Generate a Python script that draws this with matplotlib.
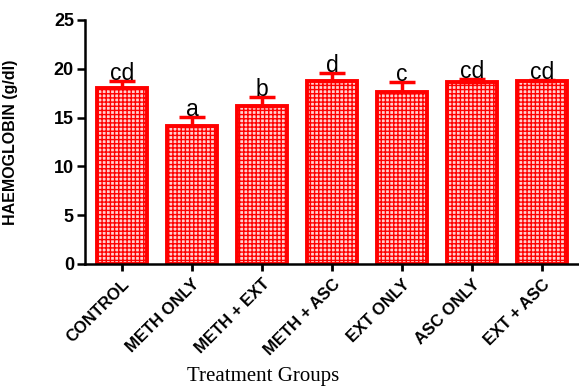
import matplotlib
matplotlib.use("Agg")
import matplotlib.pyplot as plt
import matplotlib.transforms as mtransforms
import numpy as np

groups = ["CONTROL", "METH ONLY", "METH + EXT", "METH + ASC", "EXT ONLY", "ASC ONLY", "EXT + ASC"]
means = [18.0, 14.1, 16.2, 18.75, 17.6, 18.6, 18.75]
errors = [0.75, 1.0, 0.9, 0.85, 1.0, 0.35, 0.15]
letters = ["cd", "a", "b", "d", "c", "cd", "cd"]
yticks = [0, 5, 10, 15, 20, 25]

plt.rcParams['hatch.linewidth'] = 1.0
plt.rcParams['hatch.color'] = '#ff0000'

fig = plt.figure(figsize=(5.79, 3.90), dpi=100)
ax = fig.add_axes([85/579, 1-264/390, 1-85/579, (264-20)/390])

x = np.arange(len(groups))
ax.bar(x, means, width=0.714, color='#ffd0d0', edgecolor='#ff0000', hatch='++++',
       linewidth=2.8, zorder=2)
ax.errorbar(x, means, yerr=[np.zeros(len(errors)), errors], fmt='none', ecolor='#ff0000',
            elinewidth=2.5, capsize=9.5, capthick=2.5, zorder=3)
for xi, m, e, t in zip(x, means, errors, letters):
    ax.text(xi, m + e + 0.1, t, ha='center', va='baseline', fontsize=16.5,
            family='Liberation Sans', color='black', zorder=4)

ax.set_xlim(-0.53, 6.53)
ax.set_ylim(0, 25)
ax.set_yticks(yticks)
ax.set_xticks(x)
ax.set_xticklabels(groups, rotation=45, ha='right', va='top', rotation_mode='anchor',
                   fontsize=12, fontweight='bold', family='Liberation Sans')
shift = mtransforms.ScaledTranslation(-4/100, 0, fig.dpi_scale_trans)
for lab in ax.get_xticklabels():
    lab.set_transform(lab.get_transform() + shift)
for lab in ax.get_yticklabels():
    lab.set_fontsize(13)
    lab.set_fontweight('bold')
    lab.set_family('Liberation Sans')
ax.spines['top'].set_visible(False)
ax.spines['right'].set_visible(False)
ax.spines['left'].set_linewidth(1.8)
ax.spines['bottom'].set_linewidth(1.8)
ax.tick_params(axis='y', length=6, width=1.8, direction='out', pad=2)
ax.tick_params(axis='x', length=5, width=2, direction='out', pad=4)

ax.set_ylabel("HAEMOGLOBIN (g/dl)", fontsize=11.5, fontweight='bold', family='Liberation Sans')
ax.yaxis.set_label_coords(-0.136, 0.5)
fig.text(263/579, 1-376/390, "Treatment Groups", ha='center', va='center', fontsize=15,
         family='Liberation Serif')

fig.savefig("out.png", dpi=100)
